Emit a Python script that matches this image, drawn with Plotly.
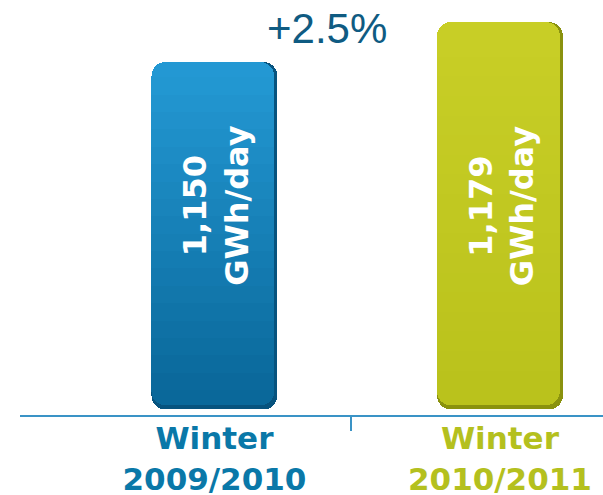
import plotly.graph_objects as go

# ---- data ----
CATEGORIES = ["Winter<br>2009/2010", "Winter<br>2010/2011"]
VALUES = [1150, 1179]
UNIT = "GWh/day"

# ---- style / layout constants ----
BASE = 898            # value where bars visually start
Y_RANGE = [894, 1195]
X_RANGE = [-0.681, 1.361]
BAR_W = 0.441
CAP = 22              # height (in value units) of the rounded end pieces
OVER = 11             # overlap of the gradient body onto the end pieces
N_SEG = 18
RADIUS = 14
LABEL_COLORS = ["#0a78a8", "#b4c01e"]
GRAD = [("#2398d3", "#0a689a"), ("#c8ce26", "#bac21c")]
RIM = ["#07537e", "#8a920e"]
ANNOT_Y = 1046


def hex2rgb(h):
    h = h.lstrip("#")
    return [int(h[i:i + 2], 16) for i in (0, 2, 4)]


def mix(c1, c2, t):
    a, b = hex2rgb(c1), hex2rgb(c2)
    return "rgb({},{},{})".format(*[round(a[i] + (b[i] - a[i]) * t) for i in range(3)])


xs = list(range(len(VALUES)))
fig = go.Figure()

common = dict(x=xs, hoverinfo="skip", showlegend=False, marker_line_width=0)

# rim (darker shape underneath)
fig.add_trace(go.Bar(base=[BASE] * len(VALUES), y=[v - BASE for v in VALUES], width=BAR_W,
                     offset=-BAR_W / 2, marker_color=RIM, marker_cornerradius=RADIUS, **common))

inner_w = BAR_W - 0.011
bot = BASE + 3

# bottom rounded cap
fig.add_trace(go.Bar(base=[bot] * len(VALUES), y=[CAP] * len(VALUES), width=inner_w,
                     offset=-BAR_W / 2, marker_color=[g[1] for g in GRAD],
                     marker_cornerradius=RADIUS, **common))
# top rounded cap
fig.add_trace(go.Bar(base=[v - CAP for v in VALUES], y=[CAP] * len(VALUES), width=inner_w,
                     offset=-BAR_W / 2, marker_color=[g[0] for g in GRAD],
                     marker_cornerradius=RADIUS, **common))
# middle gradient segments (square, overlapping the caps' inner ends)
for k in range(N_SEG):
    bases, ys, cols = [], [], []
    for i, v in enumerate(VALUES):
        lo_all, hi_all = bot + CAP - OVER, v - CAP + OVER
        step = (hi_all - lo_all) / N_SEG
        lo = lo_all + k * step
        hi = min(lo + step + 0.8, hi_all)
        bases.append(lo)
        ys.append(hi - lo)
        t = 1 - (k + 0.5) / N_SEG
        cols.append(mix(GRAD[i][0], GRAD[i][1], t))
    fig.add_trace(go.Bar(base=bases, y=ys, width=inner_w, offset=-BAR_W / 2,
                         marker_color=cols, **common))

# value labels inside bars
for i, v in enumerate(VALUES):
    fig.add_annotation(x=i, y=ANNOT_Y, xref="x", yref="y", text=f"{v:,}<br>{UNIT}",
                       textangle=-90, showarrow=False, xshift=2,
                       font=dict(family="DejaVu Sans", size=32, color="white", weight="bold"))

# growth annotation
growth = (VALUES[1] / VALUES[0] - 1) * 100
fig.add_annotation(x=0.394, y=0.9325, xref="x", yref="paper", text=f"+{growth:.1f}%",
                   showarrow=False, yanchor="middle",
                   font=dict(family="Liberation Sans", size=42, color="#0f5b82"))

ticktext = ["<br>".join(f'<span style="color:{c}">{part}</span>' for part in cat.split("<br>"))
            for cat, c in zip(CATEGORIES, LABEL_COLORS)]

fig.update_layout(
    width=603, height=495,
    margin=dict(l=20, r=0, t=0, b=80, autoexpand=False),
    paper_bgcolor="white", plot_bgcolor="white",
    barmode="overlay",
    bargap=0,
    xaxis=dict(range=X_RANGE, showgrid=False, zeroline=False, automargin=False,
               showline=True, linecolor="#3a93c6", linewidth=2,
               tickvals=xs, ticktext=ticktext, ticks="", ticklabelstandoff=-5,
               tickfont=dict(family="DejaVu Sans", size=31, weight="bold"),
               minor=dict(tickvals=[0.48], ticks="outside", ticklen=14,
                          tickcolor="#3a93c6", tickwidth=2, showgrid=False)),
    yaxis=dict(range=Y_RANGE, visible=False, showgrid=False, zeroline=False, automargin=False),
)

fig.write_html("out.html", config={"displayModeBar": False, "staticPlot": True},
               post_script="document.body.style.margin='0';document.body.style.overflow='hidden';")
